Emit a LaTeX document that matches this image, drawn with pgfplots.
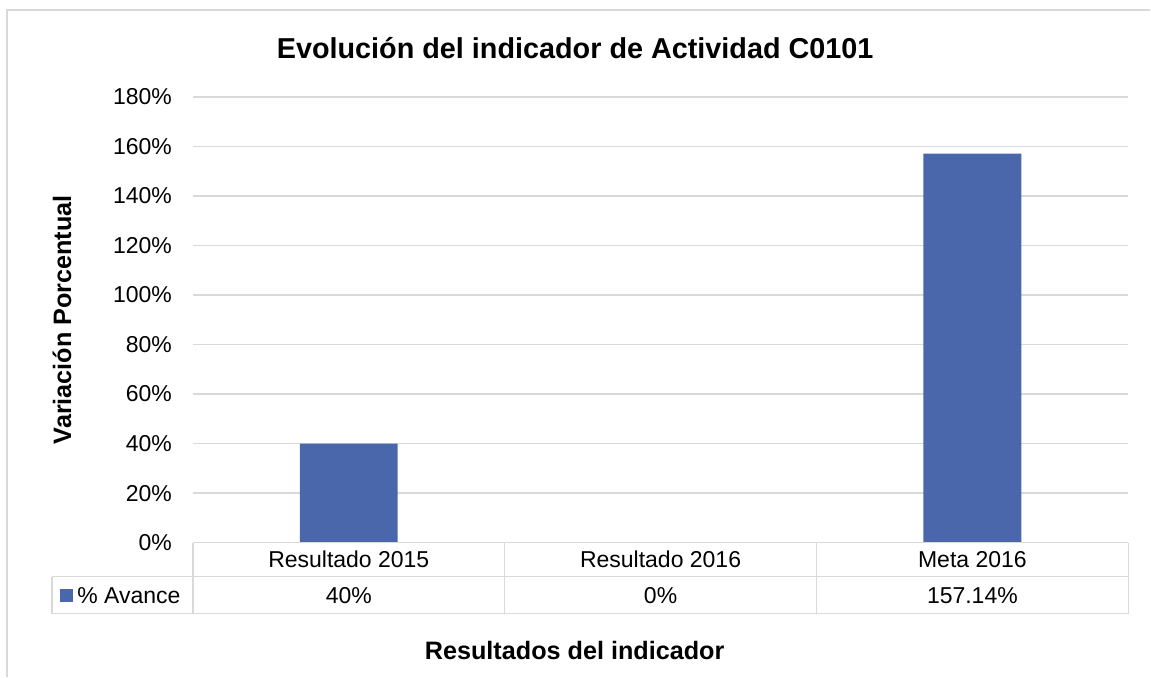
\documentclass[border=0pt]{standalone}
\usepackage{pgfplots}
\pgfplotsset{compat=1.18}
\usepackage{fontspec}
\setmainfont{Liberation Sans}
\definecolor{barblue}{RGB}{74,103,172}
\definecolor{gridgray}{RGB}{217,217,217}
\begin{document}
\begin{tikzpicture}
\begin{scope}[x=0.5pt,y=-0.5pt,yshift=338.5pt]
\useasboundingbox (0,0) rectangle (1151,677);
\end{scope}
\begin{axis}[
  at={(96.5pt,67pt)}, anchor=south west,
  scale only axis, width=468pt, height=223pt,
  xmin=-0.5, xmax=2.5, ymin=0, ymax=180,
  xtick=\empty,
  ytick={0,20,...,180},
  yticklabel={\pgfmathprintnumber{\tick}\%},
  /pgf/number format/assume math mode=true,
  yticklabel style={font=\fontsize{11.5}{13}\selectfont, xshift=-7pt},
  major tick length=0pt,
  axis line style={draw=none},
  ymajorgrids, grid style={gridgray, line width=0.75pt},
  clip=false,
]
\addplot[ybar, bar width=49pt, fill=barblue, draw=none] coordinates {(0,40) (1,0) (2,157.14)};
\end{axis}
\begin{scope}[x=0.5pt,y=-0.5pt,yshift=338.5pt, font=\fontsize{11.5}{13}\selectfont]
\draw[gridgray, line width=0.75pt] (7,677) -- (7,10) -- (1151,10);
\draw[gridgray, line width=0.75pt] (193,543) -- (1129,543);
\draw[gridgray, line width=0.75pt] (52,577) -- (1129,577);
\draw[gridgray, line width=0.75pt] (52,614) -- (1129,614);
\draw[gridgray, line width=0.75pt] (52,577) -- (52,614);
\foreach \xx in {193,505,817,1129} \draw[gridgray, line width=0.75pt] (\xx,543) -- (\xx,614);
\node at (349,560) {Resultado 2015};
\node at (661,560) {Resultado 2016};
\node at (973,560) {Meta 2016};
\node at (349,596) {40\%};
\node at (661,596) {0\%};
\node at (973,596) {157.14\%};
\fill[barblue] (60,589) rectangle (73,602);
\node[anchor=west, inner sep=0pt] at (77,596) {\% Avance};
\node[font=\fontsize{14.4}{16}\selectfont\bfseries] at (575.5,48) {Evolución del indicador de Actividad C0101};
\node[font=\fontsize{12.6}{14}\selectfont\bfseries, rotate=90] at (62,320) {Variación Porcentual};
\node[font=\fontsize{12.6}{14}\selectfont\bfseries] at (575,651) {Resultados del indicador};
\end{scope}
\end{tikzpicture}
\end{document}
